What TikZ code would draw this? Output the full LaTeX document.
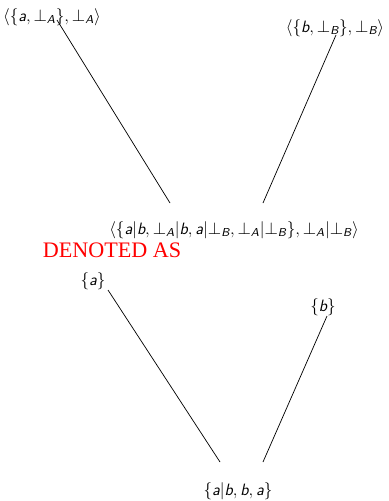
\documentclass[tikz,border=0pt]{standalone}
\usepackage{amsmath}
\usepackage{fontspec}
\newfontfamily\redfont{Liberation Serif}
\usetikzlibrary{positioning,calc}
\definecolor{denred}{HTML}{FF0000}
\newcommand{\sv}[1]{\text{\sffamily\itshape #1}}
\newcommand{\botA}{\bot_{\sv{A}}}
\newcommand{\botB}{\bot_{\sv{B}}}
\tikzset{
  termnode/.style={inner sep=1pt, font=\fontsize{11.5}{13}\selectfont},
  denlabel/.style={inner sep=0pt, text=denred, font=\redfont\fontsize{15.5}{17}\selectfont},
  edge/.style={line width=0.5pt, black}}

\begin{document}
\begin{tikzpicture}[x=0.7pt,y=-0.7pt]
  \useasboundingbox (0,0) rectangle (389,501);
  % upper tree
  \node[termnode] (ta) at (52,17) {$\langle\{\sv{a},\botA\},\botA\rangle$};
  \node[termnode] (tb) at (335,28) {$\langle\{\sv{b},\botB\},\botB\rangle$};
  \node[termnode] (tm) at (234,230)
    {$\langle\{\sv{a}|\sv{b},\botA|\sv{b},\sv{a}|\botB,\botA|\botB\},\botA|\botB\rangle$};
  \node[denlabel] (den) at (112,250) {DENOTED AS};
  % lower tree
  \node[termnode] (la) at (93,281) {$\{\sv{a}\}$};
  \node[termnode] (lb) at (323,307) {$\{\sv{b}\}$};
  \node[termnode] (lm) at (238,491) {$\{\sv{a}|\sv{b},\sv{b},\sv{a}\}$};
  \coordinate (ta-e) at (57,20);
  \coordinate (tb-e) at (336,35);
  \coordinate (tm-a) at (170,203);
  \coordinate (tm-b) at (263,203);
  \coordinate (la-e) at (108,290);
  \coordinate (lb-e) at (327,316);
  \coordinate (lm-a) at (220,462);
  \coordinate (lm-b) at (263,462);
  \draw[edge] (ta-e) -- (tm-a);
  \draw[edge] (tb-e) -- (tm-b);
  \draw[edge] (la-e) -- (lm-a);
  \draw[edge] (lb-e) -- (lm-b);
\end{tikzpicture}
\end{document}
